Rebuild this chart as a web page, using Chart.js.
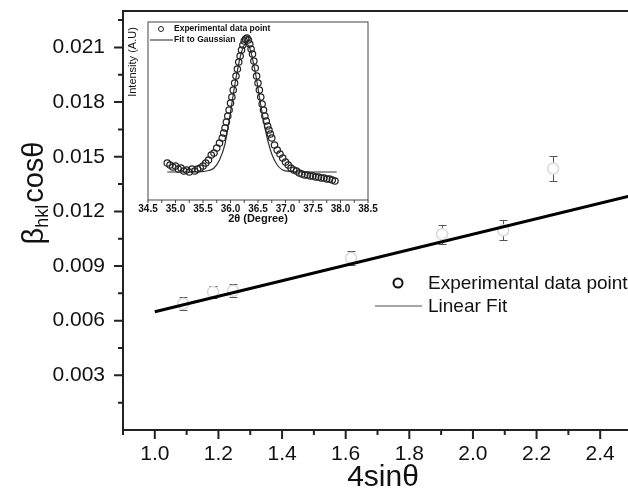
<!DOCTYPE html>
<html>
<head>
<meta charset="utf-8">
<title>Williamson-Hall plot</title>
<script src="https://cdn.jsdelivr.net/npm/chart.js@4.4.0/dist/chart.umd.min.js"></script>
<style>
    html, body { margin: 0; padding: 0; background: #fff; overflow: hidden; }
    #wrap { position: relative; width: 628px; height: 495px; overflow: hidden; }
    #mainBox { position: absolute; left: 0; top: 0; width: 640px; height: 495px; }
    #insetBox { position: absolute; left: 120px; top: 14px; width: 260px; height: 215px; }
</style>
</head>
<body>
<div id="wrap">
    <div id="mainBox"><canvas id="mainChart"></canvas></div>
    <div id="insetBox"><canvas id="insetChart"></canvas></div>
</div>
<script>
// Main plot data (4sinθ vs βcosθ)
const xVals = [1.089, 1.183, 1.246, 1.617, 1.903, 2.095, 2.252];
const yVals = [0.00693, 0.00758, 0.00764, 0.00944, 0.01075, 0.01096, 0.01435];
const yErr = [0.00035, 0.00035, 0.00035, 0.0004, 0.00052, 0.00055, 0.00068];
const fitX = [1.0, 2.5];
const fitY = [0.00649, 0.01288];

const xMajor = [1.0, 1.2, 1.4, 1.6, 1.8, 2.0, 2.2, 2.4];
const xMinor = [0.9, 1.1, 1.3, 1.5, 1.7, 1.9, 2.1, 2.3, 2.5];
const yMajor = [0.003, 0.006, 0.009, 0.012, 0.015, 0.018, 0.021];
const yMinor = [0.0015, 0.0045, 0.0075, 0.0105, 0.0135, 0.0165, 0.0195, 0.0225];

// Inset data (XRD peak, 2θ vs intensity)
const peakX = [34.85, 34.9, 34.95, 35.0, 35.05, 35.1, 35.15, 35.2, 35.25, 35.3, 35.35, 35.4, 35.45, 35.5,
    35.55, 35.6, 35.65, 35.7, 35.75, 35.8, 35.85, 35.875, 35.9, 35.925, 35.95, 35.975, 36.0, 36.025,
    36.05, 36.075, 36.1, 36.125, 36.15, 36.175, 36.2, 36.225, 36.25, 36.275, 36.3, 36.325, 36.35,
    36.375, 36.4, 36.425, 36.45, 36.475, 36.5, 36.525, 36.55, 36.575, 36.6, 36.625, 36.65, 36.675,
    36.7, 36.725, 36.75, 36.8, 36.85, 36.9, 36.95, 37.0, 37.05, 37.1, 37.15, 37.2, 37.25, 37.3, 37.35,
    37.4, 37.45, 37.5, 37.55, 37.6, 37.65, 37.7, 37.75, 37.8, 37.85, 37.9];
const peakY = [37, 35, 33, 34, 31, 32, 29, 30, 28, 31, 29, 31, 32, 34,
    37, 40, 45, 47, 52, 57, 62, 67, 72, 78, 84, 90, 97, 103,
    110, 117, 124, 131, 138, 144, 150, 155, 159, 161, 162, 160, 156,
    151, 146, 139, 132, 124, 117, 110, 103, 96, 90, 84, 79, 74,
    70, 66, 62, 55, 50, 46, 42, 38, 35, 32, 30, 29, 27, 26, 25,
    25, 24, 24, 23, 23, 22, 22, 21, 21, 20, 19];
const gaussX = [34.85, 35.3, 35.6, 35.7, 35.8, 35.9, 36.0, 36.1, 36.2, 36.28, 36.35, 36.45, 36.55,
    36.65, 36.75, 36.85, 36.95, 37.1, 37.3, 37.93];
const gaussY = [28, 28, 29.5, 32, 40, 56, 88, 122, 148, 156, 152, 128, 95, 66, 46, 35, 30, 28.5, 28, 28];

const peakMajor = [34.5, 35.0, 35.5, 36.0, 36.5, 37.0, 37.5, 38.0, 38.5];
const peakMinor = [34.75, 35.25, 35.75, 36.25, 36.75, 37.25, 37.75, 38.25];

const FONT = '"Liberation Sans", Arial, sans-serif';
const INK = '#111';

function isIn(v, list) {
    return list.some(t => Math.abs(t - v) < 1e-7);
}

function toTicks(list) {
    return list.slice().sort((a, b) => a - b).map(v => ({ value: v }));
}

// drop the label overhang padding so the plot box sits where we want it
function noOverhang(scale) {
    scale.paddingTop = 0;
    scale.paddingBottom = 0;
    scale.paddingLeft = 0;
    scale.paddingRight = 0;
}

/**
 * Error bars under the main points
 */
const errorBarPlugin = {
    id: 'errorBars',
    beforeDatasetsDraw(chart) {
        const { ctx, scales: { x, y } } = chart;
        ctx.save();
        ctx.strokeStyle = '#555';
        ctx.lineWidth = 1;
        xVals.forEach((v, i) => {
            const px = Math.round(x.getPixelForValue(v)) + 0.5;
            const top = Math.round(y.getPixelForValue(yVals[i] + yErr[i])) + 0.5;
            const bot = Math.round(y.getPixelForValue(yVals[i] - yErr[i])) + 0.5;
            ctx.beginPath();
            ctx.moveTo(px, top); ctx.lineTo(px, bot);
            ctx.moveTo(px - 4, top); ctx.lineTo(px + 4, top);
            ctx.moveTo(px - 4, bot); ctx.lineTo(px + 4, bot);
            ctx.stroke();
        });
        ctx.restore();
    }
};

/**
 * Frame and outward tick marks
 */
function framePlugin(id, opts) {
    return {
        id: id,
        afterDraw(chart) {
            const { ctx, chartArea: a, scales: { x, y } } = chart;
            ctx.save();
            ctx.strokeStyle = opts.color;
            ctx.lineWidth = opts.width;
            ctx.strokeRect(a.left, a.top, a.right - a.left, a.bottom - a.top);
            ctx.lineWidth = opts.tickWidth;
            ctx.beginPath();
            x.ticks.forEach(t => {
                const px = x.getPixelForValue(t.value);
                const len = isIn(t.value, opts.xMajor) ? opts.major : opts.minor;
                ctx.moveTo(px, a.bottom);
                ctx.lineTo(px, a.bottom + len);
            });
            if (opts.yTicks) {
                y.ticks.forEach(t => {
                    const py = y.getPixelForValue(t.value);
                    const len = isIn(t.value, opts.yMajor) ? opts.major : opts.minor;
                    ctx.moveTo(a.left, py);
                    ctx.lineTo(a.left - len, py);
                });
            }
            ctx.stroke();
            ctx.restore();
        }
    };
}

/**
 * Axis titles and legend of the main plot
 */
const mainTextPlugin = {
    id: 'mainText',
    afterDraw(chart) {
        const { ctx, chartArea: a } = chart;
        ctx.save();
        ctx.fillStyle = INK;

        // x title
        ctx.font = '30px ' + FONT;
        ctx.textAlign = 'center';
        ctx.textBaseline = 'middle';
        ctx.fillText('4sinθ', a.left + 260, 478);

        // y title with subscript
        ctx.translate(33, 194);
        ctx.rotate(-Math.PI / 2);
        ctx.textAlign = 'left';
        ctx.textBaseline = 'alphabetic';
        ctx.font = '29px ' + FONT;
        const wB = ctx.measureText('β').width;
        const wC = ctx.measureText('cosθ').width;
        ctx.font = '18px ' + FONT;
        const wS = ctx.measureText('hkl').width;
        let x0 = -(wB + wS + wC) / 2;
        ctx.font = '29px ' + FONT;
        ctx.fillText('β', x0, 10);
        ctx.font = '18px ' + FONT;
        ctx.fillText('hkl', x0 + wB, 15);
        ctx.font = '29px ' + FONT;
        ctx.fillText('cosθ', x0 + wB + wS + 2, 10);
        ctx.restore();

        // legend
        ctx.save();
        const lx = a.left + 275;
        const ly = a.top + 272;
        ctx.strokeStyle = '#111';
        ctx.lineWidth = 2;
        ctx.beginPath();
        ctx.arc(lx, ly, 4.5, 0, Math.PI * 2);
        ctx.stroke();
        ctx.strokeStyle = '#888';
        ctx.lineWidth = 1.5;
        ctx.beginPath();
        ctx.moveTo(lx - 23, ly + 23);
        ctx.lineTo(lx + 24, ly + 23);
        ctx.stroke();
        ctx.fillStyle = INK;
        ctx.font = '19px ' + FONT;
        ctx.textBaseline = 'middle';
        ctx.fillText('Experimental data point', lx + 30, ly + 1);
        ctx.fillText('Linear Fit', lx + 30, ly + 24);
        ctx.restore();
    }
};

/**
 * Titles and legend of the inset
 */
const insetTextPlugin = {
    id: 'insetText',
    afterDraw(chart) {
        const { ctx, chartArea: a } = chart;
        ctx.save();
        ctx.fillStyle = INK;
        ctx.font = 'bold 11px ' + FONT;
        ctx.textAlign = 'center';
        ctx.textBaseline = 'middle';
        ctx.fillText('2θ (Degree)', 138, 205);

        ctx.save();
        ctx.translate(13, 48);
        ctx.rotate(-Math.PI / 2);
        ctx.font = '11px ' + FONT;
        ctx.fillText('Intensity (A.U)', 0, 0);
        ctx.restore();

        // legend
        const lx = a.left + 13;
        const ly = a.top + 7;
        ctx.strokeStyle = '#222';
        ctx.lineWidth = 1;
        ctx.beginPath();
        ctx.arc(lx, ly, 2.5, 0, Math.PI * 2);
        ctx.stroke();
        ctx.beginPath();
        ctx.moveTo(a.left + 2, ly + 11);
        ctx.lineTo(a.left + 25, ly + 11);
        ctx.stroke();
        ctx.font = 'bold 8.5px ' + FONT;
        ctx.textAlign = 'left';
        ctx.fillText('Experimental data point', a.left + 26, ly);
        ctx.fillText('Fit to Gaussian', a.left + 26, ly + 11);
        ctx.restore();
    }
};

let mainChartInstance = null;
let insetChartInstance = null;

function createMainChart() {
    const ctx = document.getElementById('mainChart');
    mainChartInstance = new Chart(ctx, {
        data: {
            datasets: [{
                type: 'scatter',
                label: 'Experimental data point',
                data: xVals.map((v, i) => ({ x: v, y: yVals[i] })),
                pointStyle: 'circle',
                pointRadius: 5.5,
                borderColor: '#d9d9d9',
                backgroundColor: '#fff',
                borderWidth: 1.5,
                order: 2
            }, {
                type: 'line',
                label: 'Linear Fit',
                data: fitX.map((v, i) => ({ x: v, y: fitY[i] })),
                borderColor: '#000',
                borderWidth: 3,
                pointRadius: 0,
                fill: false,
                order: 1
            }]
        },
        options: {
            responsive: true,
            maintainAspectRatio: false,
            animation: false,
            layout: { padding: { top: 11, right: 8, left: 0, bottom: 0 } },
            plugins: { legend: { display: false }, tooltip: { enabled: false } },
            scales: {
                x: {
                    type: 'linear',
                    min: 0.9,
                    max: 2.5,
                    border: { display: false },
                    grid: { display: false, drawTicks: false },
                    afterBuildTicks: scale => { scale.ticks = toTicks(xMajor.concat(xMinor)); },
                    afterFit: scale => { scale.height = 65; noOverhang(scale); },
                    ticks: {
                        autoSkip: false,
                        maxRotation: 0,
                        padding: 12,
                        color: INK,
                        font: { family: FONT, size: 21 },
                        callback: v => isIn(v, xMajor) ? v.toFixed(1) : ''
                    }
                },
                y: {
                    type: 'linear',
                    min: 0,
                    max: 0.023,
                    border: { display: false },
                    grid: { display: false, drawTicks: false },
                    afterBuildTicks: scale => { scale.ticks = toTicks(yMajor.concat(yMinor)); },
                    afterFit: scale => { scale.width = 123; noOverhang(scale); },
                    ticks: {
                        autoSkip: false,
                        padding: 18,
                        color: INK,
                        font: { family: FONT, size: 21 },
                        callback: v => isIn(v, yMajor) ? v.toFixed(3) : ''
                    }
                }
            }
        },
        plugins: [errorBarPlugin, framePlugin('mainFrame', {
            color: '#222', width: 2, tickWidth: 2, major: 9, minor: 5,
            xMajor: xMajor, yMajor: yMajor, yTicks: true
        }), mainTextPlugin]
    });
}

function createInsetChart() {
    const ctx = document.getElementById('insetChart');
    insetChartInstance = new Chart(ctx, {
        data: {
            datasets: [{
                type: 'scatter',
                label: 'Experimental data point',
                data: peakX.map((v, i) => ({ x: v, y: peakY[i] })),
                pointStyle: 'circle',
                pointRadius: 3.2,
                borderColor: '#222',
                backgroundColor: 'rgba(0,0,0,0)',
                borderWidth: 1.2
            }, {
                type: 'line',
                label: 'Fit to Gaussian',
                data: gaussX.map((v, i) => ({ x: v, y: gaussY[i] })),
                borderColor: '#333',
                borderWidth: 1.2,
                pointRadius: 0,
                cubicInterpolationMode: 'monotone',
                fill: false
            }]
        },
        options: {
            responsive: true,
            maintainAspectRatio: false,
            animation: false,
            layout: { padding: { top: 8, right: 12, left: 0, bottom: 0 } },
            plugins: { legend: { display: false }, tooltip: { enabled: false } },
            scales: {
                x: {
                    type: 'linear',
                    min: 34.5,
                    max: 38.5,
                    border: { display: false },
                    grid: { display: false, drawTicks: false },
                    afterBuildTicks: scale => { scale.ticks = toTicks(peakMajor.concat(peakMinor)); },
                    afterFit: scale => { scale.height = 29; noOverhang(scale); },
                    ticks: {
                        autoSkip: false,
                        maxRotation: 0,
                        padding: 3,
                        color: INK,
                        font: { family: FONT, size: 10, weight: 'bold' },
                        callback: v => isIn(v, peakMajor) ? v.toFixed(1) : ''
                    }
                },
                y: {
                    type: 'linear',
                    min: 0,
                    max: 178,
                    border: { display: false },
                    grid: { display: false, drawTicks: false },
                    afterFit: scale => { scale.width = 28; noOverhang(scale); },
                    ticks: { display: false }
                }
            }
        },
        plugins: [framePlugin('insetFrame', {
            color: '#444', width: 1, tickWidth: 1, major: 3, minor: 3,
            xMajor: peakMajor, yMajor: [], yTicks: false
        }), insetTextPlugin]
    });
}

createMainChart();
createInsetChart();
</script>
</body>
</html>
